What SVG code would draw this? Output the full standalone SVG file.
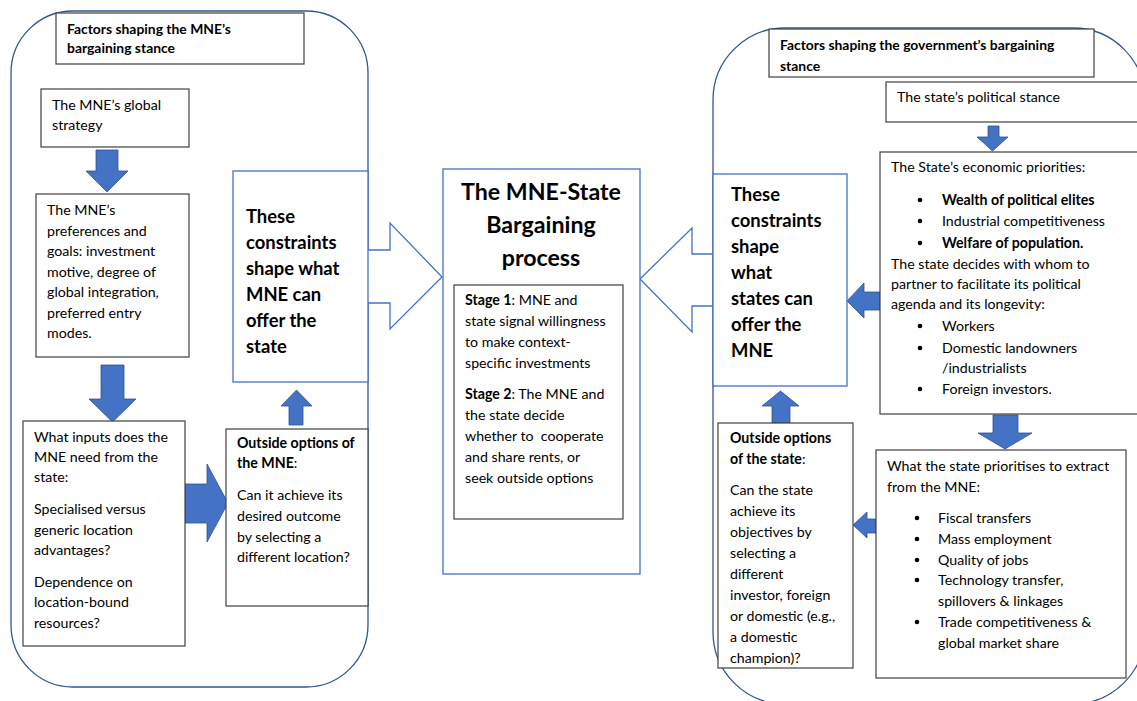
<svg xmlns="http://www.w3.org/2000/svg" width="1137" height="701" viewBox="0 0 1137 701">
<style>
text{font-family:Lato,"Liberation Sans",sans-serif;fill:#000}
.t{font-size:14.2px}
.b{font-weight:bold}
.h{font-size:13.9px;font-weight:bold}
.c{font-size:18.4px;font-weight:bold}
.ti{font-size:23.2px;font-weight:bold}
.box{fill:#fff;stroke:#404040;stroke-width:1.2}
.bbox{fill:#fff;stroke:#4472C4;stroke-width:1.3}
.cont{fill:none;stroke:#2F5597;stroke-width:1.3}
.arr{fill:#4472C4;stroke:#2F528F;stroke-width:0.8}
.oarr{fill:#fff;stroke:#4472C4;stroke-width:1.3}
</style>
<rect width="1137" height="701" fill="#fff"/>
<g id="containers">
<rect class="cont" x="11" y="11" width="357" height="676" rx="62"/>
<rect class="cont" x="713" y="28" width="432" height="676" rx="72"/>
</g>
<g id="connectors">
<path class="arr" d="M96,150H118V171H128L107,192L86,171H96Z"/>
<path class="arr" d="M101,365H124V399H136L112.5,422L89,399H101Z"/>
<path class="arr" d="M185,484H207V464L228,503L207,542V523H185Z"/>
<path class="arr" d="M289,425V406H281L296.5,390L312,406H303V425Z"/>
<path class="oarr" d="M368,250H390V223L442,277L390,329V303H368"/>
<path class="oarr" d="M712,254H692V228L640,279L692,332V306H712"/>
<path class="arr" d="M988,126H999V137H1008L992.5,151L977,137H988Z"/>
<path class="arr" d="M880,292H864V283L847,301L864,318V310H880Z"/>
<path class="arr" d="M772,423V406H762L780.5,391L799,406H790V423Z"/>
<path class="arr" d="M993,415H1018V433H1032L1005,449L978,433H993Z"/>
<path class="arr" d="M876,519H867V512L853,525L867,538V533H876Z"/>
</g>
<g id="mne-title">
<rect class="box" x="56" y="13" width="248" height="51"/>
<text class="h" x="67" y="34">Factors shaping the MNE’s</text>
<text class="h" x="67" y="53">bargaining stance</text>
</g>
<g id="mne-strategy">
<rect class="box" x="41" y="89" width="148" height="58"/>
<text class="t" x="52" y="110">The MNE’s global</text>
<text class="t" x="52" y="130">strategy</text>
</g>
<g id="mne-preferences">
<rect class="box" x="36" y="194" width="153" height="163"/>
<text class="t" x="47" y="215">The MNE’s</text>
<text class="t" x="47" y="235.5">preferences and</text>
<text class="t" x="47" y="256">goals: investment</text>
<text class="t" x="47" y="276.5">motive, degree of</text>
<text class="t" x="47" y="297">global integration,</text>
<text class="t" x="47" y="317.5">preferred entry</text>
<text class="t" x="47" y="338">modes.</text>
</g>
<g id="mne-inputs">
<rect class="box" x="23" y="421" width="162" height="225"/>
<text class="t" x="34" y="442">What inputs does the</text>
<text class="t" x="34" y="462">MNE need from the</text>
<text class="t" x="34" y="482">state:</text>
<text class="t" x="34" y="514"> Specialised versus</text>
<text class="t" x="34" y="535">generic location</text>
<text class="t" x="34" y="555">advantages?</text>
<text class="t" x="34" y="587">Dependence on</text>
<text class="t" x="34" y="607">location-bound</text>
<text class="t" x="34" y="628">resources?</text>
</g>
<g id="mne-outside">
<rect class="box" x="226" y="429" width="142" height="177"/>
<text class="t b" x="237" y="448">Outside options of</text>
<text class="t" x="237" y="468"><tspan class="b">the MNE</tspan>:</text>
<text class="t" x="237" y="500">Can it achieve its</text>
<text class="t" x="237" y="521">desired outcome</text>
<text class="t" x="237" y="542">by selecting a</text>
<text class="t" x="237" y="562">different location?</text>
</g>
<g id="mne-constraints">
<rect class="bbox" x="233" y="171" width="135" height="211"/>
<text class="c" x="246" y="223">These</text>
<text class="c" x="246" y="249">constraints</text>
<text class="c" x="246" y="275">shape what</text>
<text class="c" x="246" y="301">MNE can</text>
<text class="c" x="246" y="327">offer the</text>
<text class="c" x="246" y="353">state</text>
</g>
<g id="bargaining">
<rect class="bbox" x="443" y="169" width="197" height="405"/>
<text class="ti" x="541" y="200" text-anchor="middle">The MNE-State</text>
<text class="ti" x="541" y="233" text-anchor="middle">Bargaining</text>
<text class="ti" x="541" y="266" text-anchor="middle">process</text>
</g>
<g id="stages">
<rect class="box" x="454" y="285" width="169" height="234"/>
<text class="t" x="465" y="305"><tspan class="b">Stage 1</tspan>: MNE and</text>
<text class="t" x="465" y="326">state signal willingness</text>
<text class="t" x="465" y="347">to make context-</text>
<text class="t" x="465" y="368">specific investments</text>
<text class="t" x="465" y="399"><tspan class="b">Stage 2</tspan>: The MNE and</text>
<text class="t" x="465" y="420">the state decide</text>
<text class="t" x="465" y="441" xml:space="preserve">whether to  cooperate</text>
<text class="t" x="465" y="462">and share rents, or</text>
<text class="t" x="465" y="483">seek outside options</text>
</g>
<g id="gov-title">
<rect class="box" x="769" y="29" width="325" height="48"/>
<text class="h" x="780" y="50">Factors shaping the government’s bargaining</text>
<text class="h" x="780" y="71">stance</text>
</g>
<g id="gov-political">
<rect class="box" x="886" y="82" width="260" height="40"/>
<text class="t" x="897" y="102">The state’s political stance</text>
</g>
<g id="gov-economic">
<rect class="box" x="880" y="152" width="266" height="262"/>
<text class="t" x="891" y="172">The State’s economic priorities:</text>
<circle cx="920" cy="200" r="2.3"/>
<text class="t b" x="942" y="205">Wealth of political elites</text>
<circle cx="920" cy="221" r="2.3"/>
<text class="t" x="942" y="226">Industrial competitiveness</text>
<circle cx="920" cy="243" r="2.3"/>
<text class="t b" x="942" y="248">Welfare of population.</text>
<text class="t" x="891" y="269">The state decides with whom to</text>
<text class="t" x="891" y="289">partner to facilitate its political</text>
<text class="t" x="891" y="309">agenda and its longevity:</text>
<circle cx="920" cy="326" r="2.3"/>
<text class="t" x="942" y="331">Workers</text>
<circle cx="920" cy="348" r="2.3"/>
<text class="t" x="942" y="353">Domestic landowners</text>
<text class="t" x="942" y="373">/industrialists</text>
<circle cx="920" cy="389" r="2.3"/>
<text class="t" x="942" y="394">Foreign investors.</text>
</g>
<g id="gov-constraints">
<rect class="bbox" x="713" y="174" width="134" height="212"/>
<text class="c" x="731" y="201">These</text>
<text class="c" x="731" y="227">constraints</text>
<text class="c" x="731" y="253">shape</text>
<text class="c" x="731" y="279">what</text>
<text class="c" x="731" y="305">states can</text>
<text class="c" x="731" y="331">offer the</text>
<text class="c" x="731" y="357">MNE</text>
</g>
<g id="gov-outside">
<rect class="box" x="718" y="423" width="135" height="245"/>
<text class="t b" x="730" y="443">Outside options</text>
<text class="t" x="730" y="464"><tspan class="b">of the state</tspan>:</text>
<text class="t" x="730" y="495">Can the state</text>
<text class="t" x="730" y="516">achieve its</text>
<text class="t" x="730" y="537">objectives by</text>
<text class="t" x="730" y="558">selecting a</text>
<text class="t" x="730" y="579">different</text>
<text class="t" x="730" y="600">investor, foreign</text>
<text class="t" x="730" y="621">or domestic (e.g.,</text>
<text class="t" x="730" y="642">a domestic</text>
<text class="t" x="730" y="663">champion)?</text>
</g>
<g id="gov-extract">
<rect class="box" x="876" y="450" width="250" height="228"/>
<text class="t" x="887" y="471">What the state prioritises to extract</text>
<text class="t" x="887" y="492">from the MNE:</text>
<circle cx="917" cy="518" r="2.3"/>
<text class="t" x="938" y="523">Fiscal transfers</text>
<circle cx="917" cy="539" r="2.3"/>
<text class="t" x="938" y="544">Mass employment</text>
<circle cx="917" cy="560" r="2.3"/>
<text class="t" x="938" y="565">Quality of jobs</text>
<circle cx="917" cy="580" r="2.3"/>
<text class="t" x="938" y="585">Technology transfer,</text>
<text class="t" x="938" y="606">spillovers &amp; linkages</text>
<circle cx="917" cy="622" r="2.3"/>
<text class="t" x="938" y="627">Trade competitiveness &amp;</text>
<text class="t" x="938" y="648">global market share</text>
</g>
</svg>
